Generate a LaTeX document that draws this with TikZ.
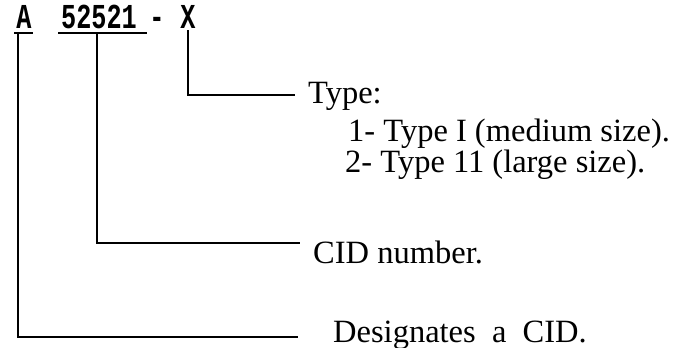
\documentclass[tikz,border=0pt]{standalone}
\usepackage{fontspec}
\setmainfont{Liberation Serif}
\newfontfamily\typewfont{Liberation Mono}
\begin{document}
\begin{tikzpicture}[x=1pt,y=-1pt,
  codetext/.style={inner sep=0pt, anchor=base, font=\typewfont\bfseries\fontsize{35}{35}\selectfont},
  label/.style={inner sep=0pt, anchor=base west, font=\fontsize{32.5}{34}\selectfont},
  leader/.style={line width=2.4pt},
  uline/.style={line width=1.8pt}]
\useasboundingbox (0,0) rectangle (678,348);
% code characters
\node[codetext] (cA) at (24,28) {\scalebox{0.72}[1]{A}};
\node[codetext] (cnum) at (99,28) {\scalebox{0.72}[1]{52521}};
\node[codetext] (cdash) at (157,28) {\scalebox{0.72}[1]{-}};
\node[codetext] (cX) at (188,28) {\scalebox{0.72}[1]{X}};
% underlines
\coordinate (uA1) at (14,33);
\coordinate (uA2) at (33,33);
\coordinate (uN1) at (58,33);
\coordinate (uN2) at (147,33);
\draw[uline] (uA1) -- (uA2);
\draw[uline] (uN1) -- (uN2);
% labels
\node[label] (ltype) at (308,103) {Type:};
\node[label] (lone) at (348,141) {1-\ Type I (medium size).};
\node[label] (ltwo) at (345,172) {2-\ Type 11 (large size).};
\node[label] (lcid) at (313,263) {CID number.};
\node[label] (ldes) at (333,342) {Designates\ \ a\ \ CID.};
% leader corners
\coordinate (tX) at (188,30);
\coordinate (kX) at (188,95);
\coordinate (eX) at (295,95);
\coordinate (tN) at (97,33);
\coordinate (kN) at (97,243);
\coordinate (eN) at (300,243);
\coordinate (tA) at (18,33);
\coordinate (kA) at (18,337);
\coordinate (eA) at (298,337);
\draw[leader] (tX) -- (kX) -- (eX);
\draw[leader] (tN) -- (kN) -- (eN);
\draw[leader] (tA) -- (kA) -- (eA);
\end{tikzpicture}
\end{document}
